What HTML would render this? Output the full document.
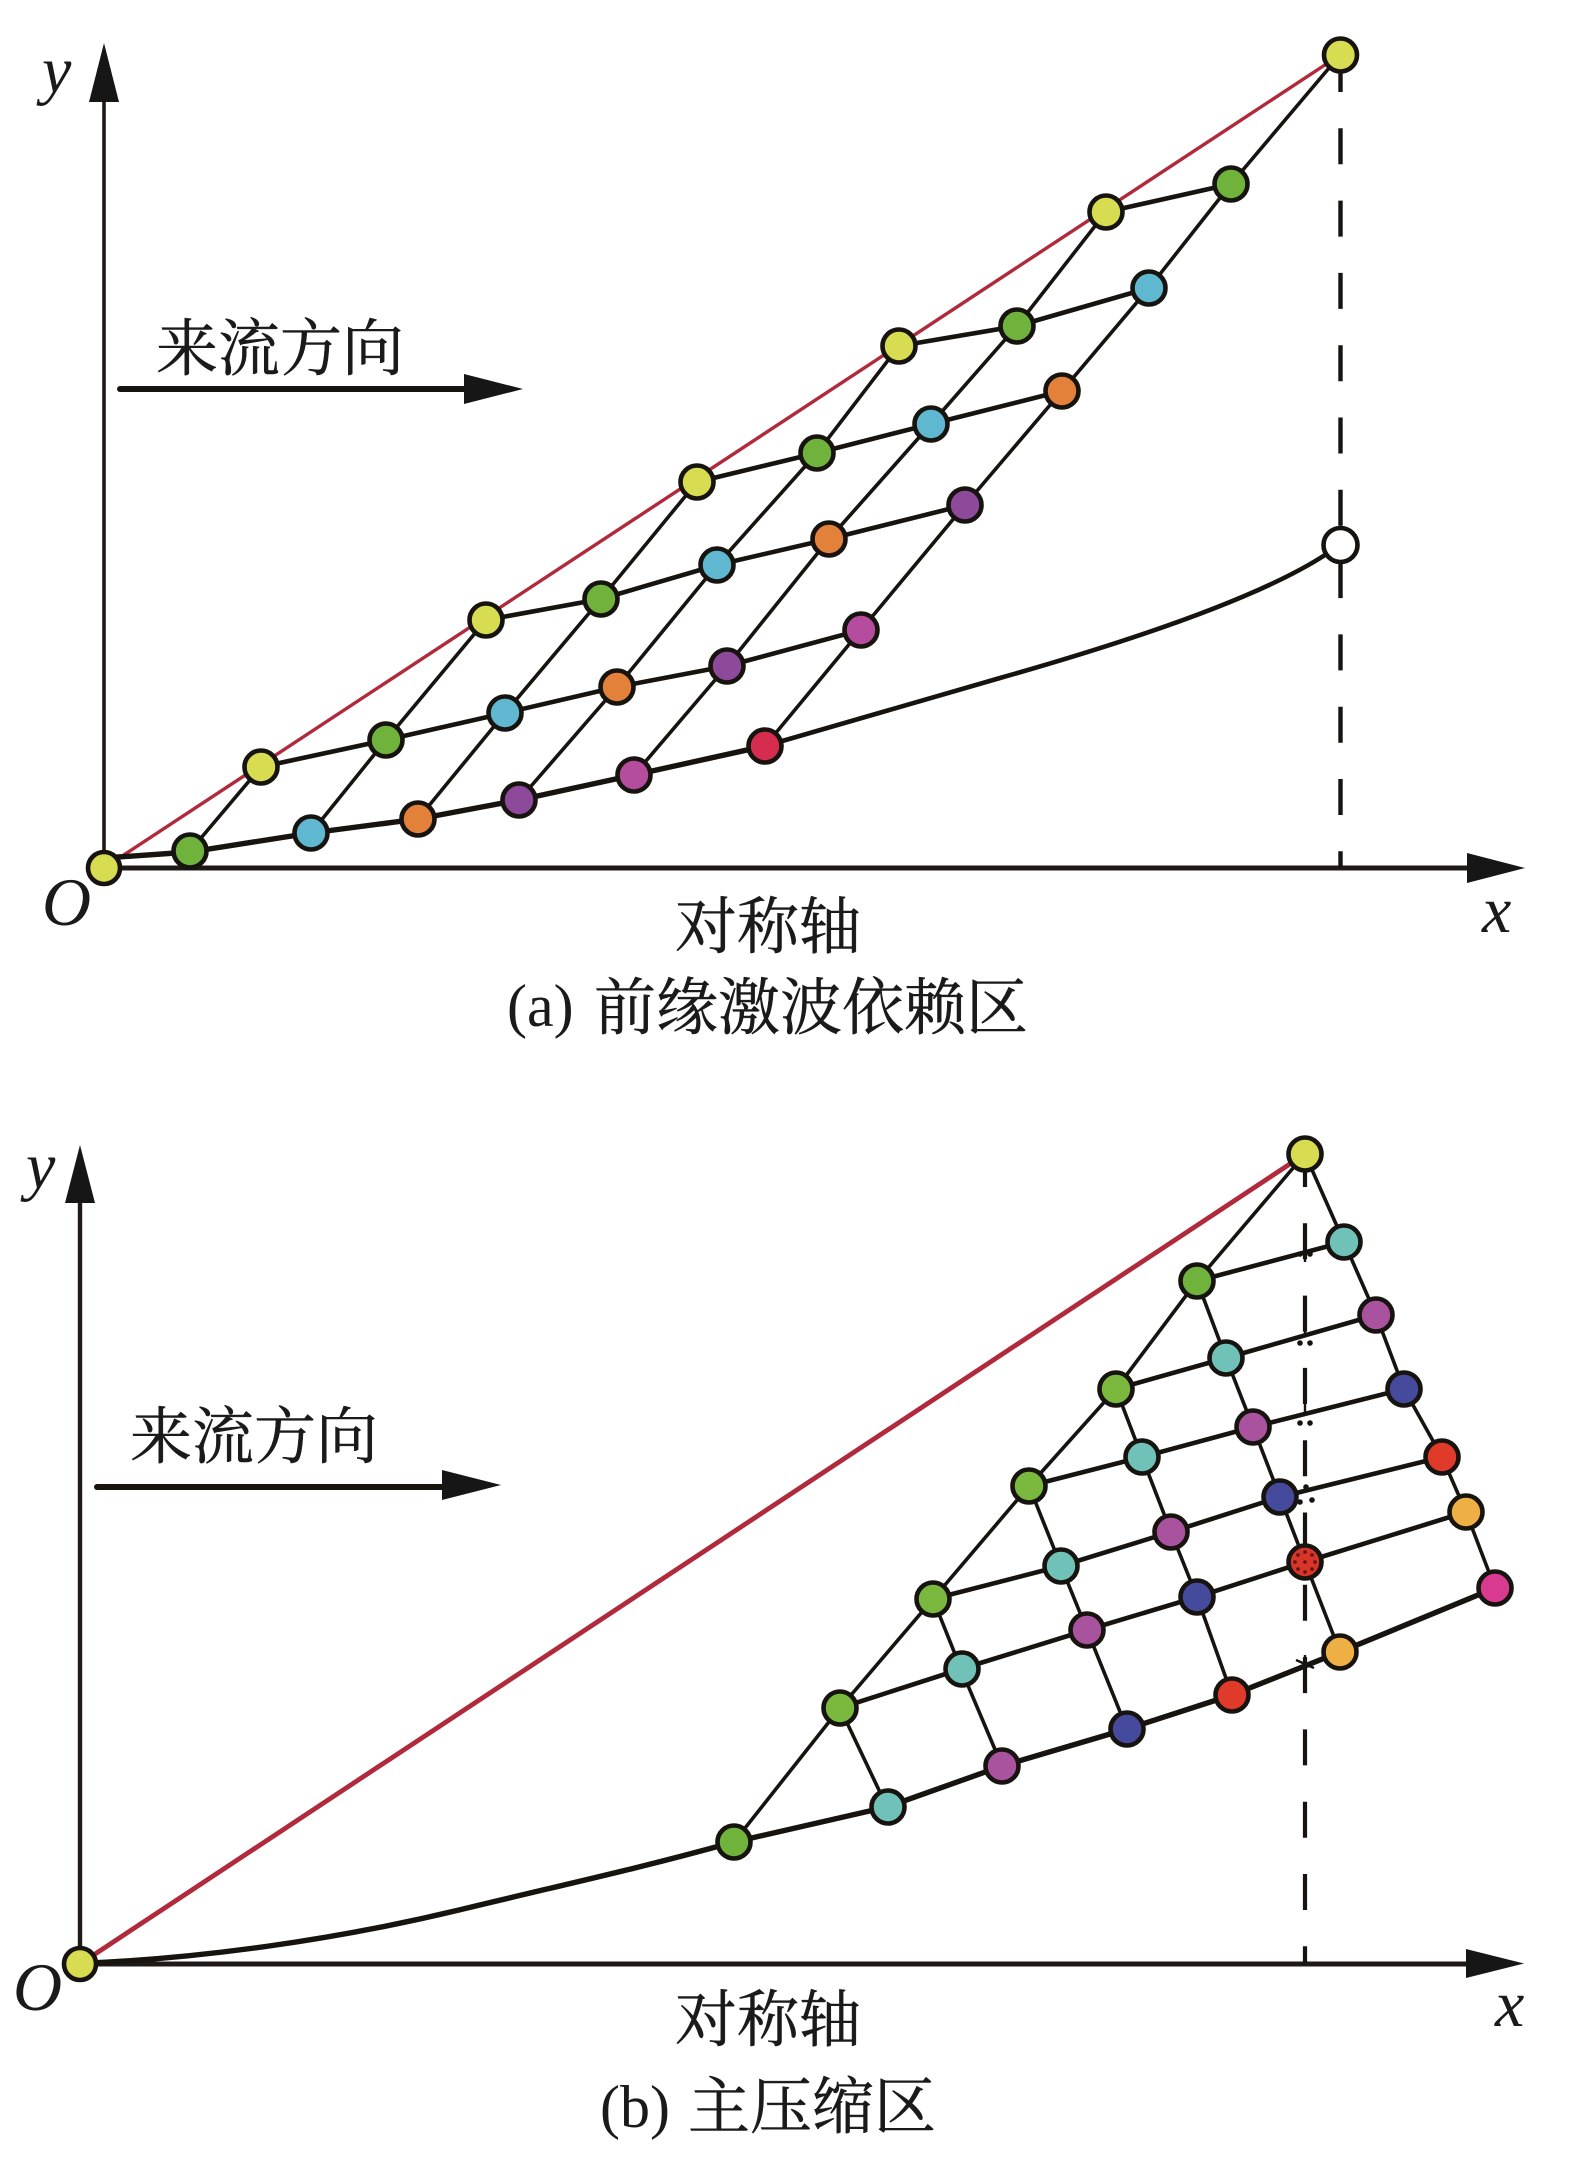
<!DOCTYPE html>
<html lang="zh"><head><meta charset="utf-8"><title>前缘激波依赖区与主压缩区</title>
<style>
html,body{margin:0;padding:0;background:#fff}
svg{display:block}
.cn{font-family:"Liberation Serif","Noto Serif CJK SC",serif;font-size:62px;fill:#1a1a1a;stroke:#1a1a1a;stroke-width:.5}
.lat{font-family:"Liberation Serif",serif;font-size:60px;fill:#1a1a1a}
.it{font-family:"Liberation Serif",serif;font-style:italic;font-size:66px;fill:#1a1a1a}
.s{fill:none;stroke:#17130f;stroke-width:3.6;stroke-linejoin:round}
.r{fill:none;stroke:#17130f;stroke-width:4.6;stroke-linejoin:round}
.t{fill:none;stroke:#17130f;stroke-width:5.4;stroke-linejoin:round}
.n circle{stroke:#17130f;stroke-width:4.6}
</style></head><body>
<svg width="1569" height="2171" viewBox="0 0 1569 2171" xmlns="http://www.w3.org/2000/svg">
<rect width="1569" height="2171" fill="#fff"/>

<!-- Panel A axes -->
<line x1="104" y1="868" x2="104" y2="100" stroke="#1f1a17" stroke-width="3.6"/>
<polygon points="104,43 89,102 119,102" fill="#161616"/>
<line x1="104" y1="868" x2="1470" y2="868" stroke="#1f1a17" stroke-width="5"/>
<polygon points="1525,868 1467,853 1467,883" fill="#161616"/>
<line x1="1340.5" y1="56" x2="1340.5" y2="868" stroke="#17130f" stroke-width="4.4" stroke-dasharray="36 36.3"/>
<line x1="120" y1="389" x2="468" y2="389" stroke="#17130f" stroke-width="6" stroke-linecap="round"/>
<polygon points="523,389 464,374 464,404" fill="#161616"/>
<line x1="104" y1="868" x2="1340" y2="55" stroke="#b02a3c" stroke-width="3.4"/>

<!-- Panel A grid -->
<polyline class="s" points="190,851 261,767"/>
<polyline class="s" points="311,833 386,740 486,620"/>
<polyline class="s" points="418,819 505,713 601,599 697,482"/>
<polyline class="s" points="519,800 617,687 717,565 817,453 899,346"/>
<polyline class="s" points="634,775 727,666 829,539 931,424 1017,326 1106,212"/>
<polyline class="s" points="765,746 861,630 965,505 1062,391 1149,288 1231,184 1340,55"/>
<polyline class="r" points="261,767 386,740 505,713 617,687 727,666 861,630"/>
<polyline class="r" points="486,620 601,599 717,565 829,539 965,505"/>
<polyline class="r" points="697,482 817,453 931,424 1062,391"/>
<polyline class="r" points="899,346 1017,326 1149,288"/>
<polyline class="r" points="1106,212 1231,184"/>
<polyline class="t" points="104,858 190,852 311,833 418,819 519,800 634,775 765,746"/>
<path class="r" d="M765,746 L1000,678 Q1240,610 1325,555"/>

<g class="n">
<circle cx="104" cy="868" r="16" fill="#d8dc50"/>
<circle cx="190" cy="851" r="16.5" fill="#6fb33c"/>
<circle cx="311" cy="833" r="16.5" fill="#5fb8cf"/>
<circle cx="418" cy="819" r="16.5" fill="#e3803a"/>
<circle cx="519" cy="800" r="16.5" fill="#8d4a9b"/>
<circle cx="634" cy="775" r="16.5" fill="#b64c9e"/>
<circle cx="765" cy="746" r="16.5" fill="#d62c4e"/>
<circle cx="261" cy="767" r="16.5" fill="#d8dc50"/>
<circle cx="386" cy="740" r="16.5" fill="#6fb33c"/>
<circle cx="505" cy="713" r="16.5" fill="#5fb8cf"/>
<circle cx="617" cy="687" r="16.5" fill="#e3803a"/>
<circle cx="727" cy="666" r="16.5" fill="#8d4a9b"/>
<circle cx="861" cy="630" r="16.5" fill="#b64c9e"/>
<circle cx="486" cy="620" r="16.5" fill="#d8dc50"/>
<circle cx="601" cy="599" r="16.5" fill="#6fb33c"/>
<circle cx="717" cy="565" r="16.5" fill="#5fb8cf"/>
<circle cx="829" cy="539" r="16.5" fill="#e3803a"/>
<circle cx="965" cy="505" r="16.5" fill="#8d4a9b"/>
<circle cx="697" cy="482" r="16.5" fill="#d8dc50"/>
<circle cx="817" cy="453" r="16.5" fill="#6fb33c"/>
<circle cx="931" cy="424" r="16.5" fill="#5fb8cf"/>
<circle cx="1062" cy="391" r="16.5" fill="#e3803a"/>
<circle cx="899" cy="346" r="16.5" fill="#d8dc50"/>
<circle cx="1017" cy="326" r="16.5" fill="#6fb33c"/>
<circle cx="1149" cy="288" r="16.5" fill="#5fb8cf"/>
<circle cx="1106" cy="212" r="16.5" fill="#d8dc50"/>
<circle cx="1231" cy="184" r="16.5" fill="#6fb33c"/>
<circle cx="1340.5" cy="55" r="16.5" fill="#d8dc50"/>
<circle cx="1340.5" cy="545" r="17" fill="#fff"/>
</g>

<text class="it" x="42" y="92">y</text>
<text class="it" x="42" y="925" style="font-size:68px">O</text>
<text class="it" x="1482" y="932">x</text>
<text class="cn" x="156" y="370">来流方向</text>
<text class="cn" x="675" y="948">对称轴</text>
<text class="lat" x="507" y="1026">(a)</text>
<text class="cn" x="594" y="1029">前缘激波依赖区</text>

<!-- Panel B axes -->
<line x1="80" y1="1964" x2="80" y2="1200" stroke="#1f1a17" stroke-width="4.4"/>
<polygon points="80,1145 65,1203 95,1203" fill="#161616"/>
<line x1="80" y1="1964" x2="1470" y2="1964" stroke="#1f1a17" stroke-width="5"/>
<polygon points="1524,1963.5 1466,1949 1466,1978" fill="#161616"/>
<line x1="1305" y1="1151" x2="1305" y2="1964" stroke="#17130f" stroke-width="4.2" stroke-dasharray="36 36.3"/>
<line x1="97" y1="1487" x2="445" y2="1487" stroke="#17130f" stroke-width="6" stroke-linecap="round"/>
<polygon points="501,1485 442,1470 442,1500" fill="#161616"/>
<line x1="80" y1="1964" x2="1305" y2="1154" stroke="#b02a3c" stroke-width="4.8"/>

<!-- Panel B grid -->
<polyline class="s" points="734,1842 840,1708 933,1599 1029,1486 1116,1389 1197,1281 1305,1154"/>
<polyline class="s" points="1305,1154 1344,1242 1376,1315 1404,1389 1442,1457 1466,1512 1495,1588"/>
<polyline class="s" points="1197,1281 1226,1358 1253,1427 1280,1497 1305,1562 1340,1652"/>
<polyline class="s" points="1116,1389 1142,1457 1171,1532 1197,1597 1232,1695"/>
<polyline class="s" points="1029,1486 1061,1566 1087,1630 1127,1729"/>
<polyline class="s" points="933,1599 961,1669 1002,1766"/>
<polyline class="s" points="840,1708 887,1807"/>
<polyline class="r" points="840,1708 961,1669 1087,1630 1197,1597 1305,1562 1466,1512"/>
<polyline class="r" points="933,1599 1061,1566 1171,1532 1280,1497 1442,1457"/>
<polyline class="r" points="1029,1486 1142,1457 1253,1427 1404,1389"/>
<polyline class="r" points="1116,1389 1226,1358 1376,1315"/>
<polyline class="r" points="1197,1281 1344,1242"/>
<polyline class="t" points="734,1842 887,1807 1002,1766 1127,1729 1232,1695 1340,1652 1495,1588"/>
<path class="t" d="M90,1963 C200,1958 330,1941 459,1910 S640,1868 734,1842"/>

<!-- marks where rows cross the dashed line -->
<g stroke="#17130f" stroke-width="2.4" fill="#17130f">
<line x1="1305" y1="1230" x2="1305" y2="1262"/><circle cx="1300" cy="1254" r="1.6"/><circle cx="1310" cy="1254" r="1.6"/>
<line x1="1305" y1="1300" x2="1305" y2="1334"/><circle cx="1300" cy="1343" r="1.6"/><circle cx="1310" cy="1343" r="1.6"/>
<line x1="1305" y1="1372" x2="1305" y2="1412"/><circle cx="1300" cy="1423" r="1.6"/><circle cx="1310" cy="1423" r="1.6"/>
<circle cx="1300" cy="1502" r="1.6"/><circle cx="1312" cy="1500" r="1.6"/><circle cx="1306" cy="1487" r="1.6"/>
<line x1="1305" y1="1655" x2="1305" y2="1690"/><line x1="1296" y1="1660" x2="1314" y2="1668"/>
</g>

<g class="n">
<circle cx="80" cy="1964" r="16" fill="#d8dc50"/>
<circle cx="734" cy="1842" r="16.5" fill="#6fb33c"/>
<circle cx="840" cy="1708" r="16.5" fill="#7ab93e"/>
<circle cx="933" cy="1599" r="16.5" fill="#7ab93e"/>
<circle cx="1029" cy="1486" r="16.5" fill="#7ab93e"/>
<circle cx="1116" cy="1389" r="16.5" fill="#7ab93e"/>
<circle cx="1197" cy="1281" r="16.5" fill="#6fb33c"/>
<circle cx="1305" cy="1154" r="16.5" fill="#d8dc50"/>
<circle cx="888" cy="1807" r="16.5" fill="#70c2b8"/>
<circle cx="962" cy="1669" r="16.5" fill="#70c2b8"/>
<circle cx="1061" cy="1566" r="16.5" fill="#70c2b8"/>
<circle cx="1142" cy="1457" r="16.5" fill="#70c2b8"/>
<circle cx="1226" cy="1358" r="16.5" fill="#70c2b8"/>
<circle cx="1344" cy="1242" r="16.5" fill="#70c2b8"/>
<circle cx="1002" cy="1766" r="16.5" fill="#a9539f"/>
<circle cx="1087" cy="1630" r="16.5" fill="#a9539f"/>
<circle cx="1171" cy="1532" r="16.5" fill="#a9539f"/>
<circle cx="1253" cy="1427" r="16.5" fill="#a9539f"/>
<circle cx="1376" cy="1315" r="16.5" fill="#a9539f"/>
<circle cx="1127" cy="1729" r="16.5" fill="#454a9c"/>
<circle cx="1197" cy="1597" r="16.5" fill="#454a9c"/>
<circle cx="1280" cy="1497" r="16.5" fill="#454a9c"/>
<circle cx="1404" cy="1389" r="16.5" fill="#454a9c"/>
<circle cx="1232" cy="1695" r="16.5" fill="#e03a2a"/>
<circle cx="1442" cy="1457" r="16.5" fill="#e03a2a"/>
<circle cx="1305" cy="1562" r="16.5" fill="#d8342a"/>
<circle cx="1340" cy="1652" r="16.5" fill="#eeb044"/>
<circle cx="1466" cy="1512" r="16.5" fill="#eeb044"/>
<circle cx="1495" cy="1588" r="16.5" fill="#d83a8f"/>
</g>
<g fill="#5a1510">
<circle cx="1305" cy="1552" r="1.8"/><circle cx="1305" cy="1572" r="1.8"/><circle cx="1295" cy="1562" r="1.8"/><circle cx="1315" cy="1562" r="1.8"/><circle cx="1298" cy="1555" r="1.8"/><circle cx="1312" cy="1555" r="1.8"/><circle cx="1298" cy="1569" r="1.8"/><circle cx="1312" cy="1569" r="1.8"/><circle cx="1305" cy="1562" r="1.8"/>
</g>

<text class="it" x="26" y="1188">y</text>
<text class="it" x="13" y="2010" style="font-size:68px">O</text>
<text class="it" x="1495" y="2026">x</text>
<text class="cn" x="130" y="1458">来流方向</text>
<text class="cn" x="675" y="2041">对称轴</text>
<text class="lat" x="600" y="2127">(b)</text>
<text class="cn" x="688" y="2128">主压缩区</text>
</svg>
</body></html>
